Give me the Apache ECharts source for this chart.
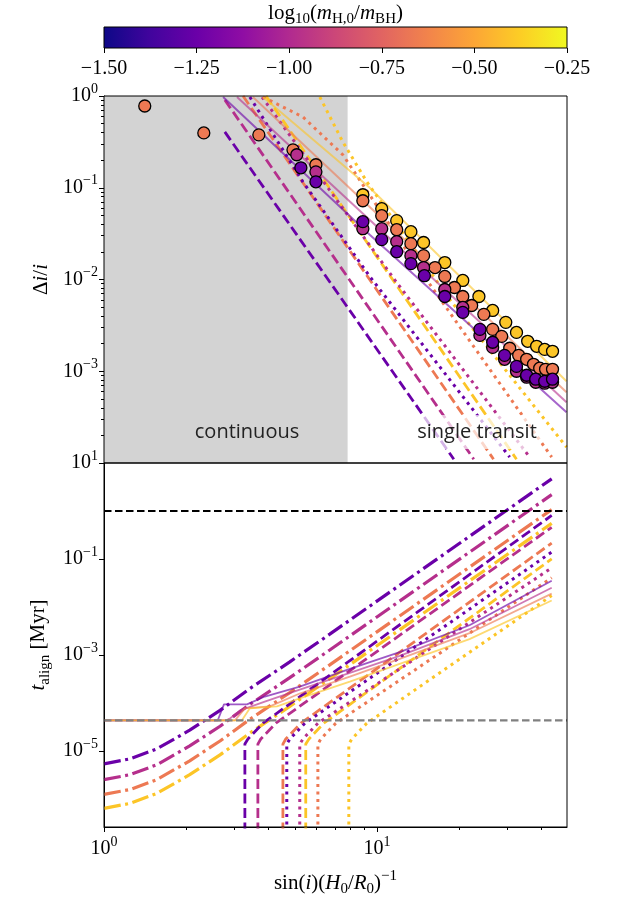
<!DOCTYPE html>
<html>
<head>
<meta charset="utf-8">
<script src="https://cdn.jsdelivr.net/npm/echarts@6/dist/echarts.min.js"></script>
<style>
  html, body { margin: 0; padding: 0; background: #fff; }
  #chart { width: 622px; height: 898px; }
</style>
</head>
<body>
<div id="chart"></div>
<script>
  // ---------- data (colour order: purple, magenta, salmon, gold) ----------
  const continuousEdge = 7.8;          // right edge of the grey "continuous" band
  const tAlignRef = 1.0;               // black dashed line
  const tGasRef = 4.35e-5;             // grey dashed line

  // top panel: Delta i / i
  const topGdfX = [[2.77, 19.1], [2.77, 22.6], [3.23, 26.7], [3.92, 32.4]];
  const topGdfY = [[0.406, 1.1e-4], [0.905, 1.1e-4], [1.0, 1.1e-4], [1.0, 1.1e-4]];

  const topBhlX = [[3.42, 5.35, 9.40, 30.6], [3.79, 11.8, 36.2], [3.82, 5.35, 7.49, 14.3, 43.6], [6.17, 7.49, 9.17, 18.45, 49.4]];
  const topBhlY = [[0.975, 0.116, 0.0108, 1.16e-4], [0.975, 0.00927, 1.16e-4], [0.975, 0.591, 0.229, 0.0128, 1.16e-4], [0.975, 0.316, 0.116, 0.00606, 1.49e-4]];

  const topSimX = [[2.73, 9.40, 49.4], [3.07, 49.4], [3.51, 49.4], [3.82, 9.40, 49.4]];
  const topSimY = [[0.975, 0.0308, 3.58e-4], [0.975, 4.60e-4], [0.975, 5.91e-4], [0.975, 0.1, 7.78e-4]];

  const dotsX = [
    [5.26, 5.97, 8.87, 10.4, 11.8, 13.3, 14.9, 17.7, 20.6, 23.8, 26.5, 29.3, 32.4, 35.3, 38.1, 41.1, 43.9],
    [5.08, 5.97, 8.87, 10.4, 11.8, 13.3, 14.8, 17.7, 20.6, 23.8, 26.5, 29.3, 32.4, 35.3, 38.1, 41.1, 43.9],
    [1.41, 2.32, 3.69, 4.92, 5.97, 8.87, 10.4, 11.8, 13.3, 14.8, 16.3, 17.7, 19.2, 20.6, 22.2, 24.6, 26.5, 28.6, 30.6, 33.0, 35.3, 37.4, 39.4, 41.4, 43.9],
    [8.87, 10.4, 11.8, 13.3, 14.8, 17.7, 20.6, 23.6, 26.5, 29.6, 32.4, 35.6, 38.4, 41.1, 43.9]
  ];
  const dotsY = [
    [0.165, 0.116, 0.0427, 0.0272, 0.0201, 0.0149, 0.0110, 0.00653, 0.00438, 0.00286, 0.00207, 0.00149, 0.00113, 0.000905, 0.000819, 0.000778, 0.000819],
    [0.229, 0.149, 0.0358, 0.0358, 0.0259, 0.0182, 0.0135, 0.00778, 0.00496, 0.00246, 0.00182, 0.00135, 0.00100, 0.000861, 0.000759, 0.000741, 0.000759],
    [0.778, 0.396, 0.377, 0.259, 0.178, 0.0722, 0.0496, 0.0349, 0.0246, 0.0182, 0.0135, 0.0108, 0.00818, 0.00653, 0.00521, 0.00417, 0.00286, 0.00240, 0.00178, 0.00149, 0.00135, 0.00119, 0.00108, 0.00105, 0.00105],
    [0.0839, 0.0591, 0.0438, 0.0332, 0.0253, 0.0153, 0.00976, 0.00653, 0.00460, 0.00341, 0.00265, 0.00212, 0.00187, 0.00173, 0.00165]
  ];

  // bottom panel: t_align [Myr]
  const botImpulseX = [1.0, 1.245, 1.56, 2.06, 2.66, 3.42, 4.79, 6.71, 43.6];
  const botImpulseY = [
    [5.39e-6, 6.84e-6, 1.10e-5, 2.71e-5, 7.00e-5, 1.99e-4, 7.18e-4, 2.71e-3, 4.68],
    [2.52e-6, 3.20e-6, 5.14e-6, 1.27e-5, 3.27e-5, 9.31e-5, 3.36e-4, 1.27e-3, 2.19],
    [1.24e-6, 1.57e-6, 2.52e-6, 6.22e-6, 1.61e-5, 4.57e-5, 1.64e-4, 6.22e-4, 1.07],
    [6.37e-7, 8.07e-7, 1.30e-6, 3.20e-6, 8.28e-6, 2.35e-5, 8.47e-5, 3.20e-4, 0.552]
  ];

  const botGdfX = [[3.28, 3.28, 3.365, 3.82, 43.6], [3.66, 3.66, 3.75, 4.26, 43.6], [4.52, 4.52, 4.63, 5.26, 43.6], [5.48, 5.48, 5.63, 6.38, 43.6]];
  const botGdfY = [[1e-7, 1.39e-5, 1.77e-5, 3.78e-5, 0.807], [1e-7, 1.39e-5, 1.77e-5, 3.78e-5, 0.457], [1e-7, 1.39e-5, 1.77e-5, 3.78e-5, 0.214], [1e-7, 1.39e-5, 1.77e-5, 3.78e-5, 0.1]];

  const botBhlX = [[4.67, 4.67, 4.79, 5.44, 43.6], [5.21, 5.21, 5.35, 6.07, 43.6], [6.07, 6.07, 6.22, 7.06, 43.6], [7.88, 7.88, 8.08, 9.17, 43.6]];
  const botBhlY = [[1e-7, 1.39e-5, 1.77e-5, 3.78e-5, 0.139], [1e-7, 1.39e-5, 1.77e-5, 3.78e-5, 0.0652], [1e-7, 1.39e-5, 1.77e-5, 3.78e-5, 0.0406], [1e-7, 1.39e-5, 1.77e-5, 3.78e-5, 0.0173]];

  const botSimX = [
    [1.0, 2.61, 2.75, 3.34, 3.88, 5.21, 7.95, 12.1, 21.8, 43.6],
    [1.0, 2.84, 3.15, 3.88, 5.21, 7.95, 12.1, 21.8, 43.6],
    [1.0, 3.02, 3.28, 4.05, 5.21, 7.95, 12.1, 21.8, 43.6],
    [1.0, 3.20, 3.42, 4.30, 5.21, 7.95, 12.1, 21.8, 43.6]
  ];
  const botSimY = [
    [4.35e-5, 4.35e-5, 9.31e-5, 9.31e-5, 1.36e-4, 2.19e-4, 5.14e-4, 1.15e-3, 4.16e-3, 0.0352],
    [4.35e-5, 4.35e-5, 7.00e-5, 1.07e-4, 1.90e-4, 4.25e-4, 9.53e-4, 3.44e-3, 0.0252],
    [4.35e-5, 4.35e-5, 7.71e-5, 8.47e-5, 1.57e-4, 3.52e-4, 8.28e-4, 2.84e-3, 0.0190],
    [4.35e-5, 4.35e-5, 7.71e-5, 8.47e-5, 1.24e-4, 2.77e-4, 6.52e-4, 2.14e-3, 0.0136]
  ];

  // axes / ticks
  const xRange = [1, 49.6];
  const topYRange = [1e-4, 1];
  const botYRange = [2.6e-7, 10];
  const xMajor = [1, 10];
  const xMinor = [2, 3, 4, 5, 6, 7, 8, 9, 20, 30, 40];
  const topYMajor = [1e-4, 1e-3, 1e-2, 1e-1, 1];
  const topYLabels = [1e-3, 1e-2, 1e-1, 1];
  const botYMajor = [1e-5, 1e-3, 1e-1, 10];
  const cbarRange = [-1.5, -0.25];

  // ---------- styles ----------
  const palette = ['#6a00a8', '#b52f8c', '#ed7953', '#fcc527'];
  const plasma = ['#0d0887', '#41049d', '#6a00a8', '#8f0da4', '#b12a90', '#cc4778', '#e16462', '#f2844b', '#fca636', '#fcce25', '#f0f921'];
  const serif = '"Liberation Serif", "DejaVu Serif", serif';
  const sans = '"Open Sans", "DejaVu Sans", sans-serif';
  const DOT = [3, 4.5], DASH = [10, 4.5], DASHDOT = [17, 4.5, 3, 4.5];

  const zip = (xs, ys) => xs.map((x, i) => [x, ys[i]]);
  const sup = v => {
    const e = Math.round(Math.log10(v));
    return '{b|10}{s|' + (e < 0 ? '\u2212' + (-e) : e) + '}';
  };
  const tickRich = {
    b: { fontFamily: serif, fontSize: 20, color: '#000' },
    s: { fontFamily: serif, fontSize: 14, color: '#000', padding: [0, 0, 14, 0] }
  };
  const mathRich = {
    n: { fontFamily: serif, fontSize: 21, color: '#000' },
    i: { fontFamily: serif, fontSize: 21, fontStyle: 'italic', color: '#000' },
    sub: { fontFamily: serif, fontSize: 15, color: '#000', padding: [12, 0, 0, 0] },
    sup: { fontFamily: serif, fontSize: 15, color: '#000', padding: [0, 0, 14, 0] }
  };

  const minorTop = [];
  for (let e = -4; e < 0; e++) for (let k = 2; k <= 9; k++) minorTop.push(k * Math.pow(10, e));

  function line(grid, xs, ys, color, type, width, opacity, z) {
    return {
      type: 'line', xAxisIndex: grid, yAxisIndex: grid, data: zip(xs, ys),
      symbol: 'none', silent: true, z: z,
      lineStyle: { color: color, width: width, type: type, opacity: opacity, cap: 'butt' }
    };
  }

  const series = [];
  // grey band
  series.push({
    type: 'line', xAxisIndex: 0, yAxisIndex: 0, data: [], silent: true, z: 1,
    markArea: { silent: true, itemStyle: { color: '#d3d3d3' }, data: [[{ xAxis: 1 }, { xAxis: continuousEdge }]] }
  });
  for (let c = 0; c < 4; c++) series.push(line(0, topGdfX[c], topGdfY[c], palette[c], DASH, 2.8, 1, 3));
  for (let c = 0; c < 4; c++) series.push(line(0, topBhlX[c], topBhlY[c], palette[c], DOT, 3, 1, 3));
  for (let c = 0; c < 4; c++) series.push(line(0, topSimX[c], topSimY[c], palette[c], 'solid', 2, 0.6, 3));
  [3, 2, 1, 0].forEach(c => series.push({
    type: 'scatter', xAxisIndex: 0, yAxisIndex: 0, data: zip(dotsX[c], dotsY[c]),
    symbolSize: 12, silent: true, z: 5,
    itemStyle: { color: palette[c], borderColor: '#000', borderWidth: 1.3, opacity: 1 }
  }));

  for (let c = 0; c < 4; c++) series.push(line(1, botImpulseX, botImpulseY[c], palette[c], DASHDOT, 3.2, 1, 3));
  for (let c = 0; c < 4; c++) series.push(line(1, botGdfX[c], botGdfY[c], palette[c], DASH, 2.8, 1, 3));
  for (let c = 0; c < 4; c++) series.push(line(1, botBhlX[c], botBhlY[c], palette[c], DOT, 3, 1, 3));
  for (let c = 0; c < 4; c++) series.push(line(1, botSimX[c], botSimY[c], palette[c], 'solid', 1.8, 0.65, 3));
  series.push(line(1, xRange, [tAlignRef, tAlignRef], '#000', [7.5, 3.5], 2.2, 1, 4));
  series.push(line(1, xRange, [tGasRef, tGasRef], '#808080', [7.5, 3.5], 2.2, 1, 4));

  const gridBox = { show: true, borderColor: '#000', borderWidth: 1, backgroundColor: 'transparent', z: 10 };
  const blackLine = { color: '#000', width: 1 };

  const option = {
    animation: false,
    backgroundColor: '#fff',
    grid: [
      Object.assign({ left: 104, top: 96, width: 463, height: 367 }, gridBox),
      Object.assign({ left: 104, top: 463, width: 463, height: 368 }, gridBox),
      { left: 104, top: 27, width: 463, height: 21, show: false }
    ],
    xAxis: [
      { type: 'log', gridIndex: 0, min: xRange[0], max: xRange[1], axisLine: { show: false }, axisTick: { show: false }, axisLabel: { show: false }, splitLine: { show: false } },
      {
        type: 'log', gridIndex: 1, min: xRange[0], max: xRange[1], position: 'bottom',
        axisLine: { show: true, lineStyle: blackLine },
        axisTick: { show: true, length: 5, customValues: xMajor, lineStyle: blackLine },
        axisLabel: { customValues: xMajor, formatter: sup, rich: tickRich, margin: 8 },
        splitLine: { show: false },
        name: '{n|sin(}{i|i}{n|)(}{i|H}{sub|0}{n|/}{i|R}{sub|0}{n|)}{sup|\u22121}',
        nameLocation: 'middle', nameGap: 42, nameTextStyle: { rich: mathRich }
      },
      { type: 'log', gridIndex: 1, min: xRange[0], max: xRange[1], position: 'bottom', axisLine: { show: false }, axisTick: { show: true, length: 3, customValues: xMinor, lineStyle: blackLine }, axisLabel: { show: false }, splitLine: { show: false } },
      {
        type: 'value', gridIndex: 2, min: cbarRange[0], max: cbarRange[1], interval: 0.25, position: 'bottom',
        axisLine: { show: false }, axisTick: { show: true, length: 5, lineStyle: blackLine },
        axisLabel: { fontFamily: serif, fontSize: 20, color: '#000', margin: 11, formatter: v => v.toFixed(2).replace('-', '\u2212') },
        splitLine: { show: false }
      }
    ],
    yAxis: [
      {
        type: 'log', gridIndex: 0, min: topYRange[0], max: topYRange[1], position: 'left',
        axisLine: { show: true, lineStyle: blackLine },
        axisTick: { show: true, length: 5, customValues: topYMajor, lineStyle: blackLine },
        axisLabel: { customValues: topYLabels, formatter: sup, rich: tickRich, margin: 6 },
        splitLine: { show: false },
        name: '{n|\u0394}{i|i}{n|/}{i|i}', nameLocation: 'middle', nameRotate: 90, nameGap: 40,
        nameTextStyle: { rich: mathRich }
      },
      {
        type: 'log', gridIndex: 1, min: botYRange[0], max: botYRange[1], position: 'left',
        axisLine: { show: true, lineStyle: blackLine },
        axisTick: { show: true, length: 5, customValues: botYMajor, lineStyle: blackLine },
        axisLabel: { customValues: botYMajor, formatter: sup, rich: tickRich, margin: 6 },
        splitLine: { show: false },
        name: '{i|t}{sub|align}{n| [Myr]}', nameLocation: 'middle', nameRotate: 90, nameGap: 40,
        nameTextStyle: { rich: mathRich }
      },
      { type: 'log', gridIndex: 0, min: topYRange[0], max: topYRange[1], position: 'left', axisLine: { show: false }, axisTick: { show: true, length: 3, customValues: minorTop, lineStyle: blackLine }, axisLabel: { show: false }, splitLine: { show: false } },
      { type: 'value', gridIndex: 2, show: false, min: 0, max: 1 }
    ],
    graphic: [
      {
        type: 'rect', z: 20, shape: { x: 104, y: 27, width: 463, height: 21 },
        style: {
          fill: new echarts.graphic.LinearGradient(0, 0, 1, 0, plasma.map((c, i) => ({ offset: i / (plasma.length - 1), color: c }))),
          stroke: '#000', lineWidth: 1
        }
      },
      {
        type: 'text', z: 20, x: 335.5, y: 13,
        style: {
          text: '{n|log}{sub|10}{n|(}{i|m}{sub|H,0}{n|/}{i|m}{sub|BH}{n|)}',
          rich: mathRich, align: 'center', verticalAlign: 'middle'
        }
      },
      {
        type: 'group', z: 20, children: [
          { type: 'line', shape: { x1: 124, y1: 282, x2: 172, y2: 282 }, style: { stroke: '#000', lineWidth: 2.5, lineDash: DOT } },
          { type: 'line', shape: { x1: 124, y1: 313, x2: 172, y2: 313 }, style: { stroke: '#000', lineWidth: 2.5, lineDash: DASHDOT } },
          { type: 'line', shape: { x1: 124, y1: 344, x2: 172, y2: 344 }, style: { stroke: '#000', lineWidth: 2.5, lineDash: DASH } },
          { type: 'line', shape: { x1: 124, y1: 375, x2: 172, y2: 375 }, style: { stroke: '#000', lineWidth: 2.5 } },
          { type: 'text', x: 189, y: 282, style: { text: 'BHL', font: '20px ' + sans, fill: '#222', verticalAlign: 'middle' } },
          { type: 'text', x: 189, y: 313, style: { text: 'BHL (impulse)', font: '20px ' + sans, fill: '#222', verticalAlign: 'middle' } },
          { type: 'text', x: 189, y: 344, style: { text: 'GDF', font: '20px ' + sans, fill: '#222', verticalAlign: 'middle' } },
          { type: 'text', x: 189, y: 375, style: { text: 'Simulated', font: '20px ' + sans, fill: '#222', verticalAlign: 'middle' } }
        ]
      },
      { type: 'text', z: 20, x: 247, y: 432, style: { text: 'continuous', font: '20px ' + sans, fill: '#222', align: 'center', verticalAlign: 'middle' } },
      {
        type: 'text', z: 20, x: 477, y: 432,
        style: { text: 'single transit', font: '20px ' + sans, fill: '#222', align: 'center', verticalAlign: 'middle', backgroundColor: 'rgba(255,255,255,0.7)', padding: [8, 4, 6, 4] }
      }
    ],
    series: series
  };

  const chart = echarts.init(document.getElementById('chart'));
  chart.setOption(option);
</script>
</body>
</html>
